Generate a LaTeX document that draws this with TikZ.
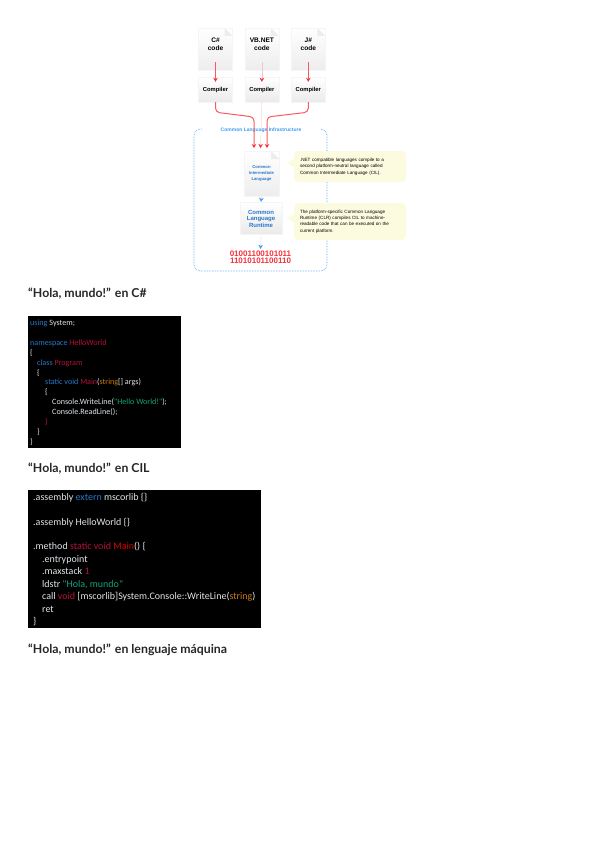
\documentclass[tikz,border=0pt]{standalone}
\usepackage{fontspec}
\setmainfont{Liberation Sans}
\newfontfamily\codefont{Carlito}
\newfontfamily\headfont{Lato}
\usetikzlibrary{arrows.meta,positioning,calc}
\definecolor{clibar}{HTML}{3D9BF5}
\definecolor{flowred}{HTML}{F5303A}
\definecolor{notefill}{HTML}{FDFBDF}
\definecolor{kwblue}{HTML}{2A78C8}
\definecolor{typered}{HTML}{B5123A}
\definecolor{strgreen}{HTML}{0FA57C}
\definecolor{strorange}{HTML}{C97A10}
\definecolor{codefg}{HTML}{E0E4E8}
\begin{document}
\begin{tikzpicture}[
  x=1pt,y=-1pt,
  node distance=12pt and 12pt,
  doc/.style={minimum width=34pt,minimum height=42pt,inner sep=0pt,align=center,
    draw=black!4,top color=white,bottom color=black!7,font=\fontsize{6.6}{7.5}\selectfont\bfseries,
    path picture={
      \fill[white] ($(path picture bounding box.north east)+(-8,0)$) -- (path picture bounding box.north east) -- ++(0,8) -- cycle;
      \fill[black!7] ($(path picture bounding box.north east)+(-8,0)$) -- ++(0,8) -- ++(8,0) -- cycle;}},
  comp/.style={minimum width=34pt,minimum height=25pt,inner sep=0pt,align=center,
    draw=black!4,top color=white,bottom color=black!8,font=\fontsize{5.8}{6}\selectfont\bfseries,
    path picture={
      \fill[white] (path picture bounding box.north west) -- ++(5,0) -- ++(-5,5) -- cycle;
      \fill[white] (path picture bounding box.north east) -- ++(-5,0) -- ++(5,5) -- cycle;}},
  flow/.style={line width=1pt,flowred!80,-{Stealth[length=4pt,width=4.5pt,flowred]}},
  thinflow/.style={line width=.3pt,flowred!30,-{Stealth[length=4pt,width=4.5pt,flowred]}},
  blueflow/.style={line width=.3pt,clibar!30,-{Stealth[length=4pt,width=4.5pt,clibar]}},
  note/.style={fill=notefill,rounded corners=4pt,inner xsep=6pt,inner ysep=0pt,
    text width=100pt,align=left,font=\fontsize{4.6}{6.4}\selectfont},
  heading/.style={anchor=base west,inner sep=0pt,font=\headfont\bfseries\fontsize{12.3}{14}\selectfont,text=black!85},
  codeline/.style={anchor=base west,inner sep=0pt,text=codefg,font=\codefont\fontsize{8.1}{9}\selectfont},
  bigcode/.style={codeline,font=\codefont\fontsize{10}{12}\selectfont}
]
  \useasboundingbox (0,0) rectangle (600,848);

  % source files and their compilers
  \node[doc] (cscode) at (215.5,49) {C\#\\code\\[2pt]~};
  \node[doc,right=12pt of cscode] (vbcode) {VB.NET\\code\\[2pt]~};
  \node[doc,right=12pt of vbcode] (jscode) {J\#\\code\\[2pt]~};
  \node[comp] (cscomp) at (215.5,89.5) {~\\Compiler};
  \node[comp,right=12pt of cscomp] (vbcomp) {~\\Compiler};
  \node[comp,right=12pt of vbcomp] (jscomp) {~\\Compiler};

  % infrastructure frame
  \node[draw=clibar,densely dotted,line width=.6pt,rounded corners=7pt,minimum width=133pt,minimum height=142pt,inner sep=0pt] (cli) at (260.5,200) {};
  \node[fill=white,inner sep=.6pt,minimum width=118pt,text=clibar,font=\fontsize{5}{6}\selectfont\bfseries] (clititle) at (261,130) {Common Language Infrastructure};

  \node[doc,minimum width=35pt,minimum height=45pt,text=kwblue,font=\fontsize{4.2}{6}\selectfont\bfseries] (cil) at (261.5,173.5) {Common\\Intermediate\\Language};
  \node[comp,minimum width=42pt,minimum height=32pt,text=kwblue,font=\fontsize{6}{6.8}\selectfont\bfseries] (clr) at (261,218) {~\\[-1pt]Common\\Language\\Runtime};
  \node[text=flowred,inner sep=0pt,align=center,font=\fontsize{8}{7.2}\selectfont\bfseries] (binary) at (260.5,257) {01001100101011\\11010101100110};

  \node[note,minimum height=31pt] (cilnote) at (350,166.5) {.NET compatible languages compile to a\\second platform-neutral language called\\Common Intermediate Language (CIL).};
  \node[note,minimum height=37pt] (clrnote) at (350,221.5) {The platform-specific Common Language\\Runtime (CLR) compiles CIL to machine-\\readable code that can be executed on the\\current platform.};
  \fill[notefill] (cilnote.west) ++(0,-7) -- ++(-7,3) -- ++(7,5) -- cycle;
  \fill[notefill] (clrnote.west) ++(0,-7) -- ++(-7,3) -- ++(7,5) -- cycle;

  % arrows
  \coordinate (csin) at (254,148);
  \coordinate (vbin) at (260.5,148);
  \coordinate (jsin) at (267,148);
  \coordinate (cstart) at ($(cscode.south)+(0,-8)$);
  \coordinate (vstart) at ($(vbcode.south)+(0,-8)$);
  \coordinate (jstart) at ($(jscode.south)+(0,-8)$);
  \draw[flow] (cstart) -- ($(cscomp.north)+(0,5)$);
  \draw[thinflow] (vstart) -- ($(vbcomp.north)+(0,5)$);
  \draw[flow] (jstart) -- ($(jscomp.north)+(0,5)$);
  \draw[flow,rounded corners=4pt] (cscomp.south) -- ++(0,10) -- (csin |- 0,117) -- (csin);
  \draw[thinflow] (vbcomp.south) -- (vbin);
  \draw[flow,rounded corners=4pt] (jscomp.south) -- ++(0,10) -- (jsin |- 0,117) -- (jsin);
  \draw[blueflow] (cil.south) -- (clr.north);
  \draw[blueflow] (clr.south) -- ($(binary.north)+(0,-1.5)$);

  % first listing
  \node[heading] (headcs) at (28,297) {“Hola, mundo!” en C\#};
  \node[fill=black,minimum width=153pt,minimum height=132pt,inner sep=0pt] (csbox) at (104.5,382) {};
  \node[codeline] (csa) at (30,325) {\textcolor{kwblue}{using} System;};
  \node[codeline] (csb) at (30,345) {\textcolor{kwblue}{namespace} \textcolor{typered}{HelloWorld}};
  \node[codeline] (csc) at (30,355) {\{};
  \node[codeline] (csd) at (37,365) {\textcolor{kwblue}{class} \textcolor{typered}{Program}};
  \node[codeline] (cse) at (37,375) {\{};
  \node[codeline] (csf) at (45,384.5) {\textcolor{kwblue}{static void} \textcolor{typered}{Main}(\textcolor{strorange}{string}[] args)};
  \node[codeline] (csg) at (45,394.5) {\{};
  \node[codeline] (csh) at (52,404.5) {Console.WriteLine(\textcolor{strgreen}{"Hello World!"});};
  \node[codeline] (csi) at (52,414.5) {Console.ReadLine();};
  \node[codeline] (csj) at (45,424) {\textcolor{typered}{\}}};
  \node[codeline] (csk) at (37,434) {\}};
  \node[codeline] (csl) at (30,444) {\}};

  % second listing
  \node[heading] (headcil) at (28,472) {“Hola, mundo!” en CIL};
  \node[fill=black,minimum width=233pt,minimum height=138pt,inner sep=0pt] (cilbox) at (144.5,559) {};
  \node[bigcode] (cila) at (33,500) {.assembly \textcolor{kwblue}{extern} mscorlib \{\}};
  \node[bigcode] (cilb) at (33,525) {.assembly HelloWorld \{\}};
  \node[bigcode] (cilc) at (33,549.5) {.method \textcolor{typered}{static void} \textcolor{red!85!black}{Main}() \{};
  \node[bigcode] (cild) at (42,562) {.entrypoint};
  \node[bigcode] (cile) at (42,574.5) {.maxstack \textcolor{typered}{1}};
  \node[bigcode] (cilf) at (42,587) {ldstr \textcolor{strgreen}{"Hola, mundo"}};
  \node[bigcode] (cilg) at (42,599) {call \textcolor{typered}{void} [mscorlib]System.Console::WriteLine(\textcolor{strorange}{string})};
  \node[bigcode] (cilh) at (42,612) {ret};
  \node[bigcode] (cili) at (33,624.5) {\}};

  \node[heading] (headasm) at (28,653) {“Hola, mundo!” en lenguaje máquina};
\end{tikzpicture}
\end{document}
